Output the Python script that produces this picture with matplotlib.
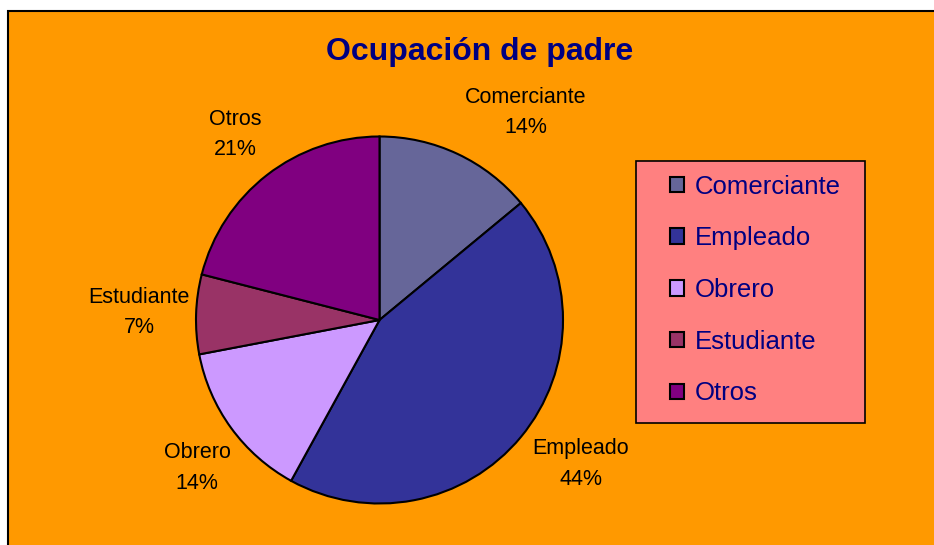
import numpy as np
import matplotlib
matplotlib.use("Agg")
import matplotlib.pyplot as plt
from matplotlib.patches import Rectangle, Patch

# ---- data ----
categories = ["Comerciante", "Empleado", "Obrero", "Estudiante", "Otros"]
percentages = [14, 44, 14, 7, 21]
title = "Ocupación de padre"

# ---- style ----
colors = ["#666699", "#333399", "#CC99FF", "#993366", "#800080"]
label_dist = [1.385, 1.35, 1.28, 1.31, 1.28]
label_angle_shift = [-10, 4, 3, 0, 0]
plt.rcParams['font.family'] = ['Liberation Sans', 'DejaVu Sans']

W, H = 934, 545
fig = plt.figure(figsize=(W / 100, H / 100), dpi=100)
fig.patch.set_facecolor("white")

# orange chart area with top/left border
bg = Rectangle((8 / W, -0.1), 1.2, 1 - 11 / H + 0.1, transform=fig.transFigure,
               facecolor="#FF9900", edgecolor="black", linewidth=1.5, zorder=0)
fig.patches.append(bg)

# legend box
box = Rectangle((636 / W, 1 - 423 / H), (865 - 636) / W, (423 - 161) / H,
                transform=fig.transFigure, facecolor="#FF8080", edgecolor="black",
                linewidth=1.2, zorder=1)
fig.patches.append(box)

ax = fig.add_axes([0, 0, 1, 1])
ax.set_zorder(2)
ax.set_facecolor("none")
ax.patch.set_alpha(0)
cx, cy, R = 379.5, H - 320, 183.5
wedges, _ = ax.pie(percentages, colors=colors, startangle=90, counterclock=False,
                   center=(cx, cy), radius=R, frame=True,
                   wedgeprops=dict(edgecolor="black", linewidth=1.5))
ax.set_xlim(0, W)
ax.set_ylim(0, H)
ax.set_aspect("equal")
ax.axis("off")

for w, cat, p, d, s in zip(wedges, categories, percentages, label_dist, label_angle_shift):
    mid = np.deg2rad((w.theta1 + w.theta2) / 2 + s)
    x = cx + R * d * np.cos(mid)
    y = cy + R * d * np.sin(mid)
    ax.text(x, y, f"{cat}\n{p}%", ha="center", va="center", fontsize=15.5,
            color="black", linespacing=1.6)

fig.text(480 / W, 1 - 52 / H, title, ha="center", va="center", fontsize=23,
         fontweight="bold", color="#000080")

handles = [Patch(facecolor=c, edgecolor="black", linewidth=1.5) for c in colors]
leg = fig.legend(handles, categories, loc="center left",
                 bbox_to_anchor=(670 / W, 1 - 290 / H), frameon=False,
                 fontsize=18.5, labelcolor="#000080", borderpad=0, borderaxespad=0,
                 handlelength=0.55, handleheight=0.55, handletextpad=0.4,
                 labelspacing=1.08)
leg.set_zorder(3)

fig.savefig("out.png", dpi=100, facecolor=fig.get_facecolor())
